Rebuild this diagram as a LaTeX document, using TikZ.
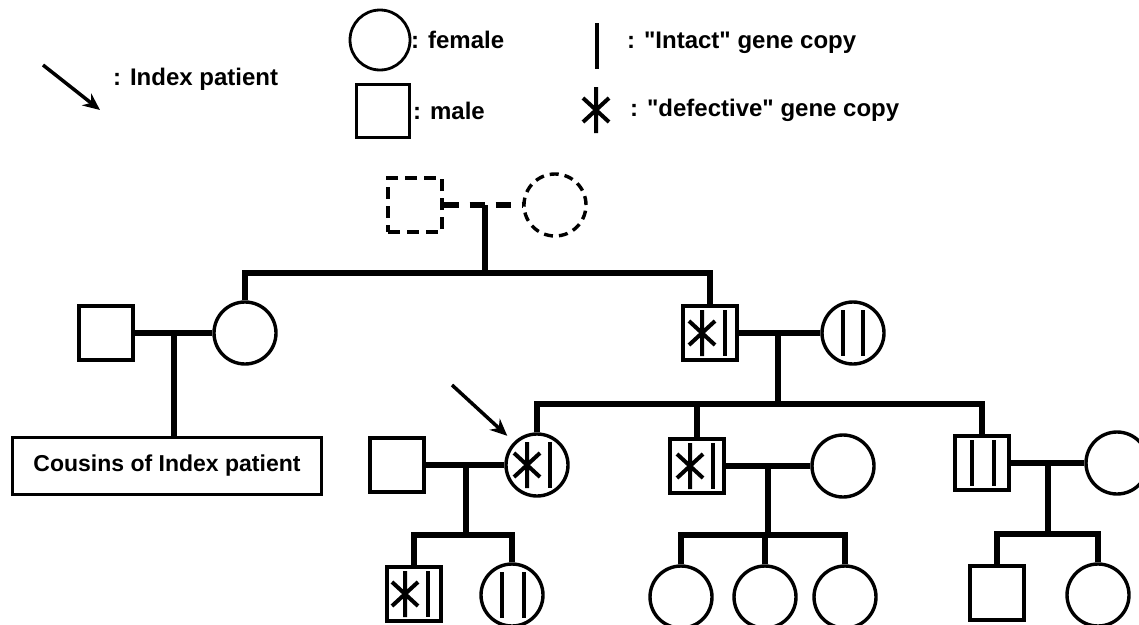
\documentclass[tikz,border=0pt]{standalone}
\usepackage{fontspec}
\setmainfont{Liberation Sans}
\usetikzlibrary{arrows.meta}

\tikzset{
  famline/.style={line width=5.5pt},
  male/.style={draw, line width=3.4pt, minimum size=54pt, inner sep=0pt},
  female/.style={draw, circle, line width=3.4pt, minimum size=62pt, inner sep=0pt},
  gene/.style={line width=4pt},
  legtext/.style={anchor=west, inner sep=0pt, font=\bfseries\fontsize{24}{28}\selectfont},
  pointer/.style={line width=3.5pt, -{Stealth[length=17pt,width=15pt]}},
  intact/.pic={\draw[gene] (0,-23) -- (0,23);},
  defect/.pic={\draw[gene] (0,-23) -- (0,23) (-13,-12) -- (13,12) (-13,12) -- (13,-12);}
}

\begin{document}
\begin{tikzpicture}[x=1pt,y=-1pt]
                    \useasboundingbox (0,0) rectangle (1139,624);
                    % legend
                    \coordinate (legA) at (43,65);
                    \coordinate (legB) at (100,110);
                    \draw[pointer] (legA) -- (legB);
                    \node[legtext] (tidx) at (113,79) {: Index patient};
                    \node[female, line width=2.8pt, minimum size=60pt] (lfem) at (380,40) {};
                    \node[legtext] (tfem) at (411,40) {: female};
                    \node[male, minimum size=53pt] (lmale) at (383,111) {};
                    \node[legtext] (tmale) at (413,111) {: male};
                    \path (597,46) pic {intact};
                    \node[legtext] (tint) at (627,43) {: \textquotedbl Intact\textquotedbl\ gene copy};
                    \path (596,110) pic {defect};
                    \node[legtext] (tdef) at (630,110) {: \textquotedbl defective\textquotedbl\ gene copy};

                    % generation I
                    \node[male, dash pattern=on 12pt off 7pt] (gf) at (415,205) {};
                    \node[female, dash pattern=on 9pt off 6pt] (gm) at (555,205) {};
                    \draw[famline, dash pattern=on 15pt off 11pt] (gf.east) -- (gm.west);
                    \coordinate (u1) at (485,205);
                    \coordinate (s1) at (485,273);
                    \draw[famline] (u1) -- (s1);

                    % generation II
                    \node[male] (uncle) at (106,333) {};
                    \node[female] (aunt) at (245,333) {};
                    \node[male] (father) at (710,333) {};
                    \node[female] (mother) at (853,333) {};
                    \draw[famline] (aunt.north) |- (s1) -| (father.north);
                    \draw[famline] (uncle.east) -- (aunt.west);
                    \draw[famline] (father.east) -- (mother.west);
                    \path (father) ++(-8,0) pic {defect} ++(23,0) pic {intact};
                    \path (mother) ++(-10,0) pic {intact} ++(20,0) pic {intact};
                    \node[draw, line width=3.4pt, minimum width=309pt, minimum height=57pt, inner sep=0pt,
                          font=\bfseries\fontsize{23}{27}\selectfont] (cousins) at (167,466) {Cousins of Index patient};
                    \coordinate (u2) at (174,333);
                    \draw[famline] (u2) -- (u2 |- cousins.north);
                    \coordinate (u3) at (778,333);
                    \coordinate (s3) at (778,404);
                    \draw[famline] (u3) -- (s3);

                    % generation III
                    \node[male] (husband) at (397,465) {};
                    \node[female] (index) at (537,465) {};
                    \node[male] (brotherA) at (697,466) {};
                    \node[female] (inlawA) at (843,466) {};
                    \node[male] (brotherB) at (982,463) {};
                    \node[female] (inlawB) at (1117,463) {};
                    \draw[famline] (index.north) |- (s3) -| (brotherB.north);
                    \draw[famline] (brotherA.north) -- (brotherA.north |- s3);
                    \draw[famline] (husband.east) -- (index.west);
                    \draw[famline] (brotherA.east) -- (inlawA.west);
                    \draw[famline] (brotherB.east) -- (inlawB.west);
                    \path (index) ++(-10,0) pic {defect} ++(23,0) pic {intact};
                    \path (brotherA) ++(-7,0) pic {defect} ++(23,0) pic {intact};
                    \path (brotherB) ++(-10,0) pic {intact} ++(22,0) pic {intact};
                    \coordinate (ptr) at (452,385);
                    \draw[pointer, shorten >=9pt] (ptr) -- (index.135);

                    % generation IV
                    \node[male] (son) at (414,594) {};
                    \node[female] (daughter) at (512,595) {};
                    \path (son) ++(-9,0) pic {defect} ++(23,0) pic {intact};
                    \path (daughter) ++(-10,0) pic {intact} ++(22,0) pic {intact};
                    \coordinate (u4) at (466,465);
                    \coordinate (s4) at (466,535);
                    \draw[famline] (u4) -- (s4);
                    \draw[famline] (son.north) |- (s4) -| (daughter.north);

                    \node[female] (nieceA) at (681,597) {};
                    \node[female] (nieceB) at (765,597) {};
                    \node[female] (nieceC) at (845,597) {};
                    \coordinate (u5) at (768,466);
                    \coordinate (s5) at (768,535);
                    \draw[famline] (u5) -- (s5);
                    \draw[famline] (nieceA.north) |- (s5) -| (nieceC.north);
                    \draw[famline] (nieceB.north) -- (nieceB.north |- s5);

                    \node[male] (nephew) at (997,593) {};
                    \node[female] (niece) at (1098,595) {};
                    \coordinate (u6) at (1048,463);
                    \coordinate (s6) at (1048,534);
                    \draw[famline] (u6) -- (s6);
                    \draw[famline] (nephew.north) |- (s6) -| (niece.north);
                \end{tikzpicture}
\end{document}
